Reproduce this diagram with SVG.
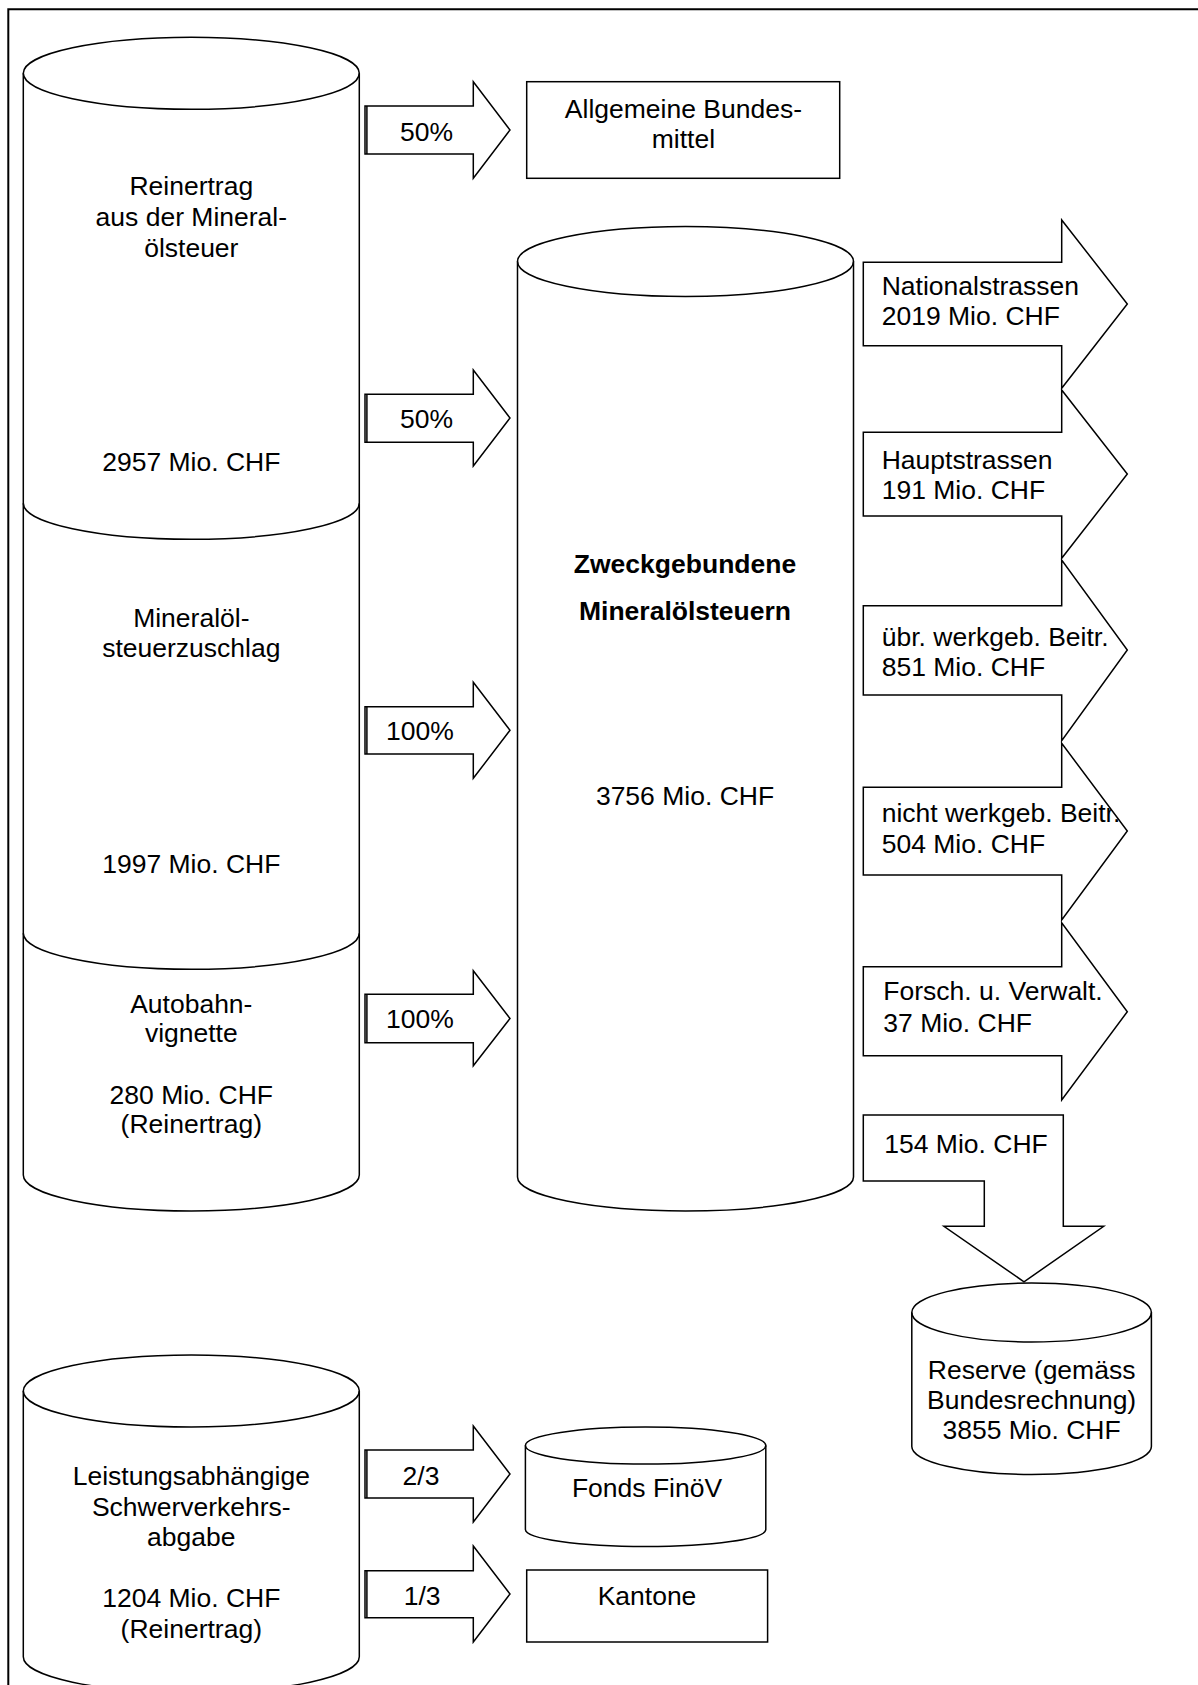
<svg xmlns="http://www.w3.org/2000/svg" width="1198" height="1685" viewBox="0 0 1198 1685">
<style>
.s{fill:none;stroke:#000;stroke-width:1.5;stroke-linejoin:miter}
.w{fill:#fff;stroke:#000;stroke-width:1.5;stroke-linejoin:miter}
.t{font-family:"Liberation Sans",Arial,sans-serif;font-size:26.5px;fill:#000}
.c{text-anchor:middle}
.b{font-weight:bold}
.frame{fill:none;stroke:#000;stroke-width:2}
</style>
<defs>
<clipPath id="clipNicht"><polygon points="863.3,787.3 1061.7,787.3 1061.7,743.3 1127.3,831 1061.7,920 1061.7,875 863.3,875"/></clipPath>
<clipPath id="clipUebr"><polygon points="863.3,605.7 1061.7,605.7 1061.7,560 1127.3,650 1061.7,740.7 1061.7,695 863.3,695"/></clipPath>
<clipPath id="clipForsch"><polygon points="863.3,966.7 1061.7,966.7 1061.7,922.7 1127.3,1011.7 1061.7,1100 1061.7,1055.7 863.3,1055.7"/></clipPath>
</defs>
<rect width="1198" height="1685" fill="#fff"/>
<path class="frame" d="M8.3,1690 V9.3 H1200"/>

<g id="cyl-mineraloelsteuer">
<ellipse class="s" cx="191.3" cy="73.3" rx="168" ry="36"/>
<path class="s" d="M23.3,73.3 V503.3 A168,36 0 0 0 359.3,503.3 V73.3"/>
<text class="t c" x="191.3" y="195">Reinertrag</text>
<text class="t c" x="191.3" y="226">aus der Mineral-</text>
<text class="t c" x="191.3" y="257">ölsteuer</text>
<text class="t c" x="191.3" y="471">2957 Mio. CHF</text>
</g>

<g id="cyl-zuschlag">
<path class="s" d="M23.3,503.3 V933.3 A168,36 0 0 0 359.3,933.3 V503.3"/>
<text class="t c" x="191.3" y="626.7">Mineralöl-</text>
<text class="t c" x="191.3" y="656.7">steuerzuschlag</text>
<text class="t c" x="191.3" y="873.3">1997 Mio. CHF</text>
</g>

<g id="cyl-vignette">
<path class="s" d="M23.3,933.3 V1175 A168,36 0 0 0 359.3,1175 V933.3"/>
<text class="t c" x="191.3" y="1012.7">Autobahn-</text>
<text class="t c" x="191.3" y="1041.7">vignette</text>
<text class="t c" x="191.3" y="1104.3">280 Mio. CHF</text>
<text class="t c" x="191.3" y="1133.3">(Reinertrag)</text>
</g>

<g id="box-bundesmittel">
<rect class="s" x="526.7" y="81.7" width="313" height="96.6"/>
<text class="t c" x="683.4" y="118.3">Allgemeine Bundes-</text>
<text class="t c" x="683.4" y="148.3">mittel</text>
</g>

<g id="cyl-zweckgebunden">
<ellipse class="s" cx="685.5" cy="261.5" rx="168" ry="35"/>
<path class="s" d="M517.5,261.5 V1177 A168,34 0 0 0 853.5,1177 V261.5"/>
<text class="t c b" x="685" y="573.3">Zweckgebundene</text>
<text class="t c b" x="685" y="620">Mineralölsteuern</text>
<text class="t c" x="685" y="805">3756 Mio. CHF</text>
</g>

<g id="cyl-reserve">
<ellipse class="s" cx="1031.6" cy="1312.5" rx="119.8" ry="29.5"/>
<path class="s" d="M911.8,1312.5 V1446.5 A119.8,28 0 0 0 1151.4,1446.5 V1312.5"/>
<text class="t c" x="1031.6" y="1378.8">Reserve (gemäss</text>
<text class="t c" x="1031.6" y="1408.8">Bundesrechnung)</text>
<text class="t c" x="1031.6" y="1439">3855 Mio. CHF</text>
</g>

<g id="cyl-lsva">
<ellipse class="s" cx="191.3" cy="1391" rx="168" ry="36"/>
<path class="s" d="M23.3,1391 V1656.7 A168,36 0 0 0 359.3,1656.7 V1391"/>
<text class="t c" x="191.3" y="1485">Leistungsabhängige</text>
<text class="t c" x="191.3" y="1515.5">Schwerverkehrs-</text>
<text class="t c" x="191.3" y="1546">abgabe</text>
<text class="t c" x="191.3" y="1607">1204 Mio. CHF</text>
<text class="t c" x="191.3" y="1637.5">(Reinertrag)</text>
</g>

<g id="cyl-fonds">
<ellipse class="s" cx="645.6" cy="1445.6" rx="120.2" ry="18.5"/>
<path class="s" d="M525.4,1445.6 V1529.5 A120.2,17 0 0 0 765.8,1529.5 V1445.6"/>
<text class="t c" x="647" y="1496.7">Fonds FinöV</text>
</g>

<g id="box-kantone">
<rect class="s" x="526.7" y="1570" width="240.9" height="72"/>
<text class="t c" x="647" y="1605">Kantone</text>
</g>

<g id="connectors">
<g id="arrow-50a">
<polygon class="s" points="365,106 473.3,106 473.3,81.7 510,130 473.3,178.3 473.3,154 365,154"/>
<line class="s" x1="366.9" y1="106" x2="366.9" y2="154" stroke-width="1"/>
<text class="t" x="400" y="140.7">50%</text>
</g>
<g id="arrow-50b">
<polygon class="s" points="365,394.3 473.3,394.3 473.3,370 510,418 473.3,466 473.3,442.3 365,442.3"/>
<line class="s" x1="366.9" y1="394.3" x2="366.9" y2="442.3" stroke-width="1"/>
<text class="t" x="400" y="428.3">50%</text>
</g>
<g id="arrow-100a">
<polygon class="s" points="365,706.7 473.3,706.7 473.3,682.3 510,730.3 473.3,778.3 473.3,754 365,754"/>
<line class="s" x1="366.9" y1="706.7" x2="366.9" y2="754" stroke-width="1"/>
<text class="t" x="386" y="740">100%</text>
</g>
<g id="arrow-100b">
<polygon class="s" points="365,994.3 473.3,994.3 473.3,970.7 510,1018.5 473.3,1065.7 473.3,1042.7 365,1042.7"/>
<line class="s" x1="366.9" y1="994.3" x2="366.9" y2="1042.7" stroke-width="1"/>
<text class="t" x="386" y="1028.3">100%</text>
</g>
<g id="arrow-23">
<polygon class="s" points="365,1450 473.3,1450 473.3,1426 510,1474 473.3,1522 473.3,1498 365,1498"/>
<line class="s" x1="366.9" y1="1450" x2="366.9" y2="1498" stroke-width="1"/>
<text class="t" x="402.6" y="1485">2/3</text>
</g>
<g id="arrow-13">
<polygon class="s" points="365,1570.7 473.3,1570.7 473.3,1546 510,1594 473.3,1642 473.3,1617.7 365,1617.7"/>
<line class="s" x1="366.9" y1="1570.7" x2="366.9" y2="1617.7" stroke-width="1"/>
<text class="t" x="403.7" y="1605">1/3</text>
</g>

<g id="arrow-national">
<polygon class="s" points="863.3,262.3 1061.7,262.3 1061.7,220 1127.3,304 1061.7,388.3 1061.7,345.7 863.3,345.7"/>
<text class="t" x="881.7" y="295">Nationalstrassen</text>
<text class="t" x="881.7" y="325">2019 Mio. CHF</text>
</g>
<g id="arrow-haupt">
<polygon class="s" points="863.3,432.3 1061.7,432.3 1061.7,390 1127.3,474 1061.7,558.3 1061.7,516 863.3,516"/>
<text class="t" x="881.7" y="469.3">Hauptstrassen</text>
<text class="t" x="881.7" y="499.3">191 Mio. CHF</text>
</g>
<g id="arrow-uebr">
<polygon class="s" points="863.3,605.7 1061.7,605.7 1061.7,560 1127.3,650 1061.7,740.7 1061.7,695 863.3,695"/>
<text class="t" x="881.7" y="646" clip-path="url(#clipUebr)">übr. werkgeb. Beitr.</text>
<text class="t" x="881.7" y="676">851 Mio. CHF</text>
</g>
<g id="arrow-nicht">
<polygon class="s" points="863.3,787.3 1061.7,787.3 1061.7,743.3 1127.3,831 1061.7,920 1061.7,875 863.3,875"/>
<text class="t" x="881.7" y="822.3" clip-path="url(#clipNicht)">nicht werkgeb. Beitr.</text>
<text class="t" x="881.7" y="853.3">504 Mio. CHF</text>
</g>
<g id="arrow-forsch">
<polygon class="s" points="863.3,966.7 1061.7,966.7 1061.7,922.7 1127.3,1011.7 1061.7,1100 1061.7,1055.7 863.3,1055.7"/>
<text class="t" x="883.3" y="1000" clip-path="url(#clipForsch)">Forsch. u. Verwalt.</text>
<text class="t" x="883.3" y="1031.7">37 Mio. CHF</text>
</g>
<g id="arrow-reserve">
<polygon class="s" points="863.3,1115 1063.3,1115 1063.3,1226.3 1103.7,1226.3 1024,1281.8 943.9,1226.3 984.3,1226.3 984.3,1181 863.3,1181"/>
<text class="t" x="884.3" y="1153">154 Mio. CHF</text>
</g>
</g>
</svg>
